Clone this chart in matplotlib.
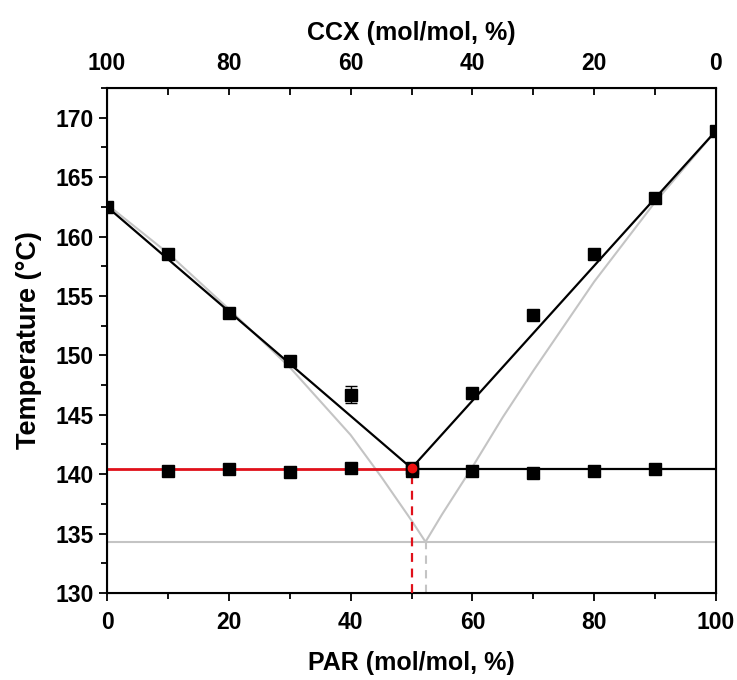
import matplotlib
matplotlib.use("Agg")
import matplotlib.pyplot as plt
from matplotlib.ticker import MultipleLocator

plt.rcParams["font.family"] = ["Liberation Sans", "DejaVu Sans"]
plt.rcParams["font.weight"] = "bold"

# measured liquidus points (PAR %, temperature)
PAR = [0, 10, 20, 30, 40, 50, 60, 70, 80, 90, 100]
T_LIQ = [162.5, 158.5, 153.6, 149.5, 146.7, 140.5, 146.8, 153.4, 158.5, 163.2, 168.9]
T_LIQ_ERR = [0, 0.1, 0.1, 0.1, 0.7, 0, 0.1, 0.1, 0.1, 0.1, 0]

# eutectic (solidus) points
PAR_EUT = [10, 20, 30, 40, 50, 60, 70, 80, 90]
T_EUT = [140.3, 140.4, 140.2, 140.5, 140.3, 140.3, 140.1, 140.3, 140.4]

# fitted experimental liquidus lines
FIT_X = [0, 50, 100]
FIT_T = [162.5, 140.5, 168.9]
T_EUT_EXP = 140.4
X_EUT_EXP = 50

# ideal (calculated) liquidus curve
IDEAL_X = [0, 10, 20, 30, 40, 45, 50, 52.3, 55, 60, 65, 70, 80, 90, 100]
IDEAL_T = [162.7, 158.6, 153.9, 149.0, 143.3, 139.8, 136.1, 134.3,
           136.6, 140.6, 144.8, 148.7, 156.2, 162.9, 168.9]
T_EUT_IDEAL = 134.3
X_EUT_IDEAL = 52.3

GREY = "#c4c4c4"

fig = plt.figure(figsize=(7.37, 6.8), dpi=100)
ax = fig.add_axes([0.1452, 0.128, 0.8263, 0.7426])

# ideal curve
ax.plot(IDEAL_X, IDEAL_T, color=GREY, lw=1.5, zorder=1)
ax.plot([0, 100], [T_EUT_IDEAL] * 2, color=GREY, lw=1.5, zorder=1)
ax.plot([X_EUT_IDEAL] * 2, [130, T_EUT_IDEAL], color=GREY, lw=1.5,
        ls=(0, (4, 3)), zorder=1)

# experimental fit
ax.plot(FIT_X, FIT_T, color="black", lw=1.6, zorder=2)
ax.plot([X_EUT_EXP, 100], [T_EUT_EXP] * 2, color="black", lw=1.6, zorder=2)
ax.plot([0, X_EUT_EXP], [T_EUT_EXP] * 2, color="#e0101a", lw=2.0, zorder=3)
ax.plot([X_EUT_EXP] * 2, [130, T_EUT_EXP], color="#e0101a", lw=1.6,
        ls=(0, (4, 3)), zorder=3)

# data points
ax.errorbar(PAR, T_LIQ, yerr=T_LIQ_ERR, fmt="s", color="black", ms=8.5,
            capsize=4, elinewidth=1, capthick=1, zorder=4)
ax.plot(PAR_EUT, T_EUT, "s", color="black", ms=8.5, zorder=4)
ax.plot([X_EUT_EXP], [140.5], "o", color="#f01010", ms=6, zorder=5)

ax.set_xlim(0, 100)
ax.set_ylim(130, 172.5)
ax.xaxis.set_major_locator(MultipleLocator(20))
ax.xaxis.set_minor_locator(MultipleLocator(10))
ax.yaxis.set_major_locator(MultipleLocator(5))
ax.yaxis.set_minor_locator(MultipleLocator(2.5))
ax.tick_params(which="both", direction="out", width=1.3, labelsize=16.5)
ax.tick_params(axis="x", pad=7)
ax.tick_params(which="major", length=6)
ax.tick_params(which="minor", length=4)
for sp in ax.spines.values():
    sp.set_linewidth(1.5)
ax.set_xlabel("PAR (mol/mol, %)", fontsize=18, fontweight="bold", labelpad=12)
ax.set_ylabel("Temperature (°C)", fontsize=19.5, fontweight="bold", labelpad=10)

# top axis: CCX = 100 - PAR
top = ax.twiny()
top.set_xlim(100, 0)
top.xaxis.set_major_locator(MultipleLocator(20))
top.xaxis.set_minor_locator(MultipleLocator(10))
top.tick_params(which="both", direction="in", width=1.3, labelsize=16.5, pad=9)
top.tick_params(which="major", length=5)
top.tick_params(which="minor", length=5)
top.set_xlabel("CCX (mol/mol, %)", fontsize=18, fontweight="bold", labelpad=9)

fig.savefig("out.png", dpi=100)
